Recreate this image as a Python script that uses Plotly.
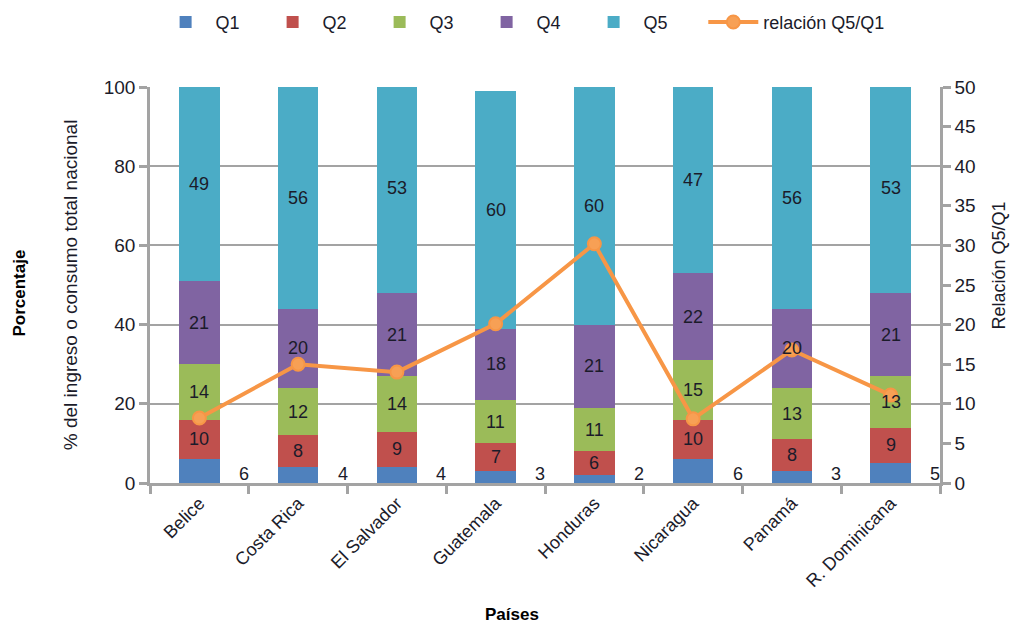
import plotly.graph_objects as go
from plotly.subplots import make_subplots

paises = ["Belice", "Costa Rica", "El Salvador", "Guatemala", "Honduras",
          "Nicaragua", "Panamá", "R. Dominicana"]
q1 = [6, 4, 4, 3, 2, 6, 3, 5]
q2 = [10, 8, 9, 7, 6, 10, 8, 9]
q3 = [14, 12, 14, 11, 11, 15, 13, 13]
q4 = [21, 20, 21, 18, 21, 22, 20, 21]
q5 = [49, 56, 53, 60, 60, 47, 56, 53]
relacion = [8.2, 15.0, 14.0, 20.1, 30.2, 8.1, 16.8, 11.1]

FONT = "Liberation Sans, Arial, sans-serif"
TXT = "#1b1b2a"
GRID = "#a3a3a3"
colors = ["#4F81BD", "#C0504D", "#9BBB59", "#8064A2", "#4BACC6"]
names = ["Q1", "Q2", "Q3", "Q4", "Q5"]
series = [q1, q2, q3, q4, q5]

xs = list(range(len(paises)))

fig = make_subplots(specs=[[{"secondary_y": True}]])

for nm, vals, c in zip(names, series, colors):
    fig.add_trace(go.Bar(
        x=xs, y=vals, name=nm, marker=dict(color=c, line=dict(width=0)),
        width=0.41, hoverinfo="skip", legend="legend",
    ), secondary_y=False)

fig.add_trace(go.Scatter(
    x=xs, y=relacion, name="relación Q5/Q1", mode="lines+markers",
    line=dict(color="#F79646", width=4),
    marker=dict(color="#F7A055", size=13, line=dict(color="#F79646", width=2)),
    legend="legend2",
), secondary_y=True)

# Q1 labels placed right of each bar, near the baseline
for xi, v in zip(xs, q1):
    fig.add_annotation(x=xi + 0.45, y=2.3, text=str(v), showarrow=False,
                       xref="x", yref="y",
                       font=dict(family=FONT, size=18, color=TXT))

# Q2..Q5 labels centred in each segment (drawn above the line)
for xi in xs:
    base = q1[xi]
    for vals in series[1:]:
        v = vals[xi]
        fig.add_annotation(x=xi, y=base + v / 2, text=str(v), showarrow=False,
                           xref="x", yref="y",
                           font=dict(family=FONT, size=18, color=TXT))
        base += v

fig.update_layout(
    barmode="stack",
    width=1018, height=619,
    margin=dict(l=142, r=86, t=79, b=144, autoexpand=False),
    paper_bgcolor="white", plot_bgcolor="white",
    font=dict(family=FONT, color=TXT),
    bargap=0.59,
    legend=dict(orientation="h", xref="container", yref="container",
                x=0.145, xanchor="left", y=0.977, yanchor="middle",
                font=dict(family=FONT, size=18, color=TXT), itemwidth=50,
                entrywidth=42, entrywidthmode="pixels",
                traceorder="normal"),
    legend2=dict(orientation="h", xref="container", yref="container",
                 x=0.683, xanchor="left", y=0.977, yanchor="middle",
                 font=dict(family=FONT, size=18, color=TXT), itemwidth=50),
    showlegend=True,
)

fig.update_xaxes(
    domain=[0, 1],
    range=[-0.5, 7.5], tickvals=xs, ticktext=paises, tickangle=-45,
    ticks="", showgrid=False, showline=True, linecolor=GRID, linewidth=2.5,
    tickfont=dict(family=FONT, size=18, color=TXT),
    minor=dict(tickvals=[i + 0.5 for i in range(-1, 8)], ticks="outside",
               ticklen=8, tickcolor=GRID, tickwidth=2.5),
    zeroline=False,
)

fig.update_yaxes(
    range=[0, 100], dtick=20, showgrid=True, gridcolor=GRID, gridwidth=2,
    showline=True, linecolor=GRID, linewidth=2.5, ticks="outside", ticklen=8,
    tickcolor=GRID, tickwidth=2.5,
    tickfont=dict(family=FONT, size=19, color=TXT), zeroline=False,
    secondary_y=False,
)
fig.update_yaxes(
    range=[0, 50], dtick=5, showgrid=False,
    showline=True, linecolor=GRID, linewidth=2.5, ticks="outside", ticklen=8,
    tickcolor=GRID, tickwidth=2.5,
    tickfont=dict(family=FONT, size=19, color=TXT), zeroline=False,
    secondary_y=True,
)

fig.add_annotation(text="<b>Países</b>", xref="paper", yref="paper",
                   x=0.458, y=-0.333, xanchor="center", yanchor="middle",
                   showarrow=False, font=dict(family=FONT, size=17, color="#000000"))
fig.add_annotation(text="<b>Porcentaje</b>", xref="paper", yref="paper",
                   x=-0.165, y=0.48, xanchor="center", yanchor="middle",
                   textangle=-90, showarrow=False,
                   font=dict(family=FONT, size=17, color="#000000"))
fig.add_annotation(text="% del ingreso o consumo total nacional", xref="paper", yref="paper",
                   x=-0.101, y=0.5, xanchor="center", yanchor="middle",
                   textangle=-90, showarrow=False,
                   font=dict(family=FONT, size=19, color=TXT))
fig.add_annotation(text="Relación Q5/Q1", xref="paper", yref="paper",
                   x=1.075, y=0.55, xanchor="center", yanchor="middle",
                   textangle=-90, showarrow=False,
                   font=dict(family=FONT, size=18, color=TXT))

fig.write_html("out.html")
